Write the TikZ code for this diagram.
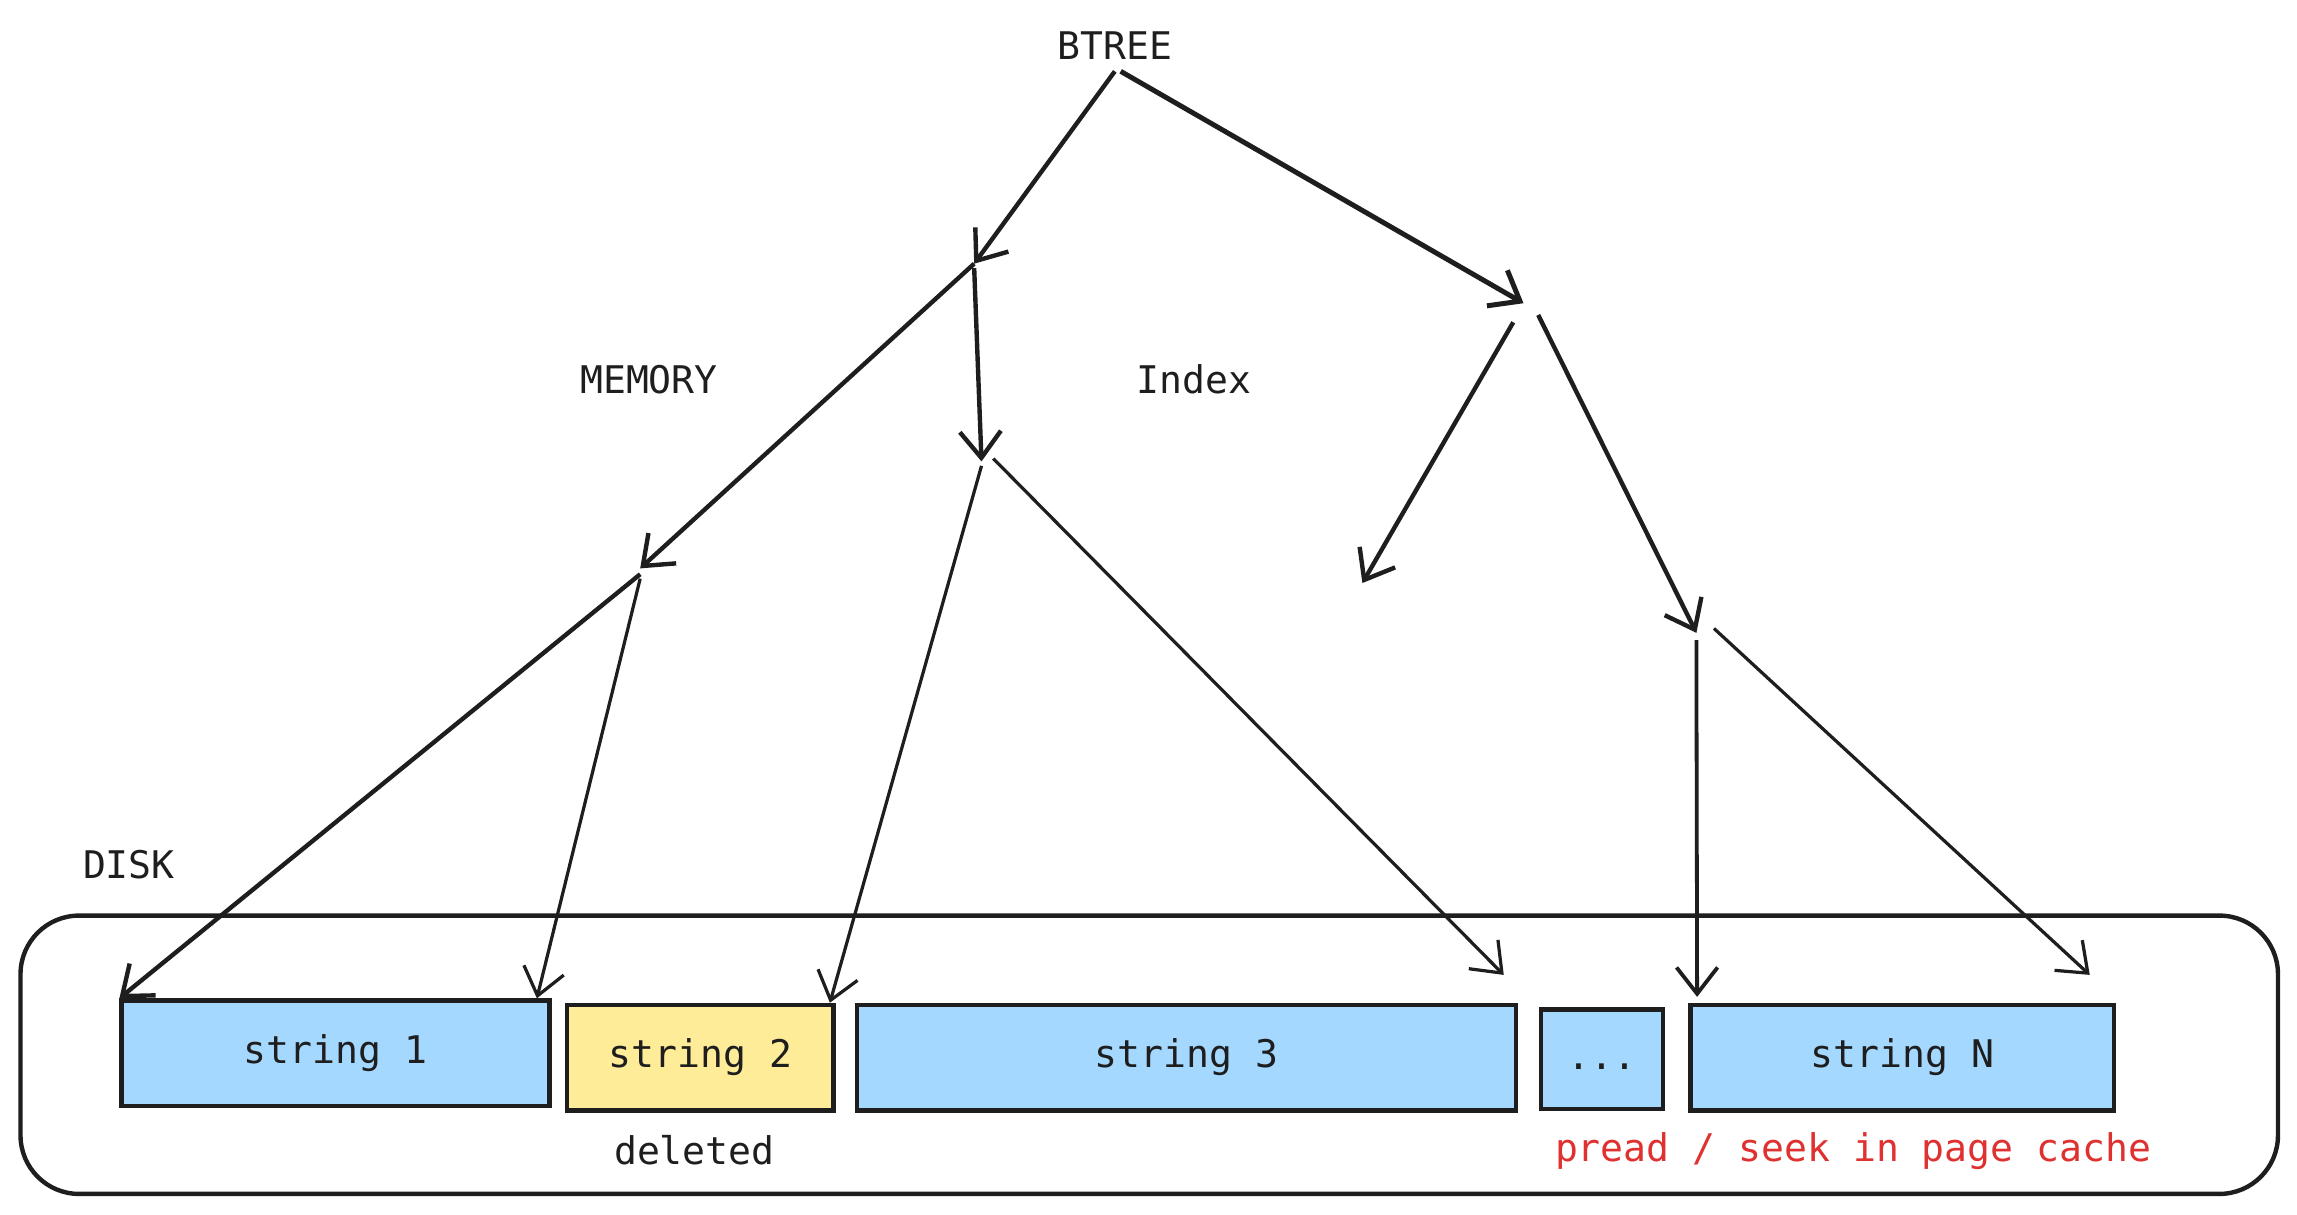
\documentclass[tikz,border=0pt]{standalone}
\usepackage{fontspec}
\setmonofont{DejaVu Sans Mono}
\usetikzlibrary{arrows.meta}
\definecolor{ink}{HTML}{1E1E1E}
\definecolor{blu}{HTML}{A5D8FF}
\definecolor{yel}{HTML}{FFEC99}
\definecolor{redtxt}{HTML}{E03131}

\begin{document}
\begin{tikzpicture}[x=1pt, y=-1pt,
    lbl/.style={font=\ttfamily\fontsize{26}{30}\selectfont, text=ink, inner sep=0pt},
    blk/.style={draw=ink, line width=3pt, fill=blu, inner sep=0pt, minimum height=72pt, text height=19pt, text depth=5pt, font=\ttfamily\fontsize{26}{30}\selectfont, text=ink},
    arr/.style={-{Straight Barb[length=18pt,width=28pt]}, draw=ink, line width=3pt},
    tarr/.style={arr, line width=2.2pt}]
    \useasboundingbox (0,0) rectangle (1568,829);

    % disk and the strings in it
    \node[draw=ink, line width=3pt, rounded corners=40pt, minimum width=1541pt, minimum height=190pt] (disk) at (784.5,720) {};
    \node[blk, minimum width=292pt] (s1) at (229,719) {string 1};
    \node[blk, minimum width=182pt, fill=yel] (s2) at (478,722) {string 2};
    \node[blk, minimum width=450pt] (s3) at (810,722) {string 3};
    \node[blk, minimum width=83pt, minimum height=68pt] (more) at (1093.5,723) {...};
    \node[blk, minimum width=289pt] (sN) at (1298.5,722) {string N};

    \node[lbl] (disklbl) at (88,590) {DISK};
    \node[lbl] (del) at (474,785) {deleted};
    \node[lbl, text=redtxt] (pread) at (1265,786) {pread / seek in page cache};
    \node[lbl] (mem) at (443,259) {MEMORY};
    \node[lbl] (idx) at (815,259) {Index};
    \node[lbl, inner sep=8pt] (btree) at (761,31) {BTREE};

    % tree points
    \coordinate (na) at (665,180);
    \coordinate (nb) at (1040,207);
    \coordinate (nc) at (437,388);
    \coordinate (nd) at (670,315);
    \coordinate (ne) at (1158,432);
    \coordinate (nf) at (930,398);

    \draw[arr] (btree.south) -- (na);
    \draw[arr, line width=3.4pt] ([xshift=4pt]btree.south) -- (nb);
    \draw[arr] (na) -- (nc);
    \draw[arr] ([yshift=-3pt]na) -- (nd);
    \draw[arr] ([shift={(-7pt,-13pt)}]nb) -- (nf);
    \draw[arr] ([shift={(10pt,-8pt)}]nb) -- (ne);

    \draw[arr] ([yshift=-4pt]nc) -- (s1.north west);
    \draw[tarr] ([yshift=-7pt]nc) -- ([xshift=-10pt]s1.north east);
    \draw[tarr] ([yshift=-3pt]nd) -- ([xshift=-4pt]s2.north east);
    \draw[tarr] ([shift={(8pt,2pt)}]nd) -- ([shift={(-10pt,19pt)}]s3.north east);
    \draw[arr, line width=2.6pt] ([yshift=-5pt]ne) -- ([shift={(6pt,4pt)}]sN.north west);
    \draw[tarr] ([shift={(12pt,3pt)}]ne) -- ([shift={(-18pt,19pt)}]sN.north east);
\end{tikzpicture}
\end{document}
